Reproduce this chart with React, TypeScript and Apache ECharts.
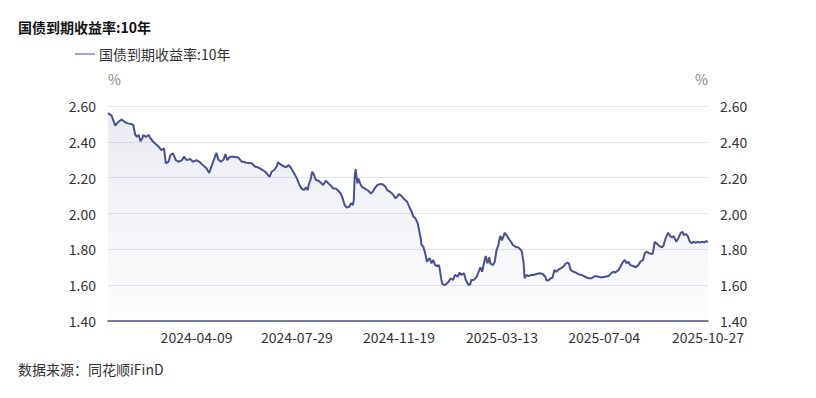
import React, { useEffect, useRef } from "react";
import * as echarts from "echarts";

const TITLE = "国债到期收益率:10年";
const SERIES_NAME = "国债到期收益率:10年";
const SOURCE = "数据来源：同花顺iFinD";

const xLabelDates = ["2024-04-09", "2024-07-29", "2024-11-19", "2025-03-13", "2025-07-04", "2025-10-27"];

const dates = [
  "2024-01-02", "2024-01-06", "2024-01-10", "2024-01-13", "2024-01-17", "2024-01-21", "2024-01-24", "2024-01-28", "2024-01-30",
  "2024-02-01", "2024-02-03", "2024-02-05", "2024-02-07", "2024-02-09", "2024-02-10", "2024-02-13", "2024-02-16", "2024-02-17",
  "2024-02-21", "2024-02-27", "2024-03-01", "2024-03-04", "2024-03-06", "2024-03-09", "2024-03-11", "2024-03-14", "2024-03-17",
  "2024-03-20", "2024-03-24", "2024-03-26", "2024-03-29", "2024-04-02", "2024-04-05", "2024-04-09", "2024-04-13", "2024-04-16",
  "2024-04-20", "2024-04-23", "2024-04-26", "2024-05-01", "2024-05-03", "2024-05-06", "2024-05-09", "2024-05-11", "2024-05-13",
  "2024-05-16", "2024-05-20", "2024-05-25", "2024-05-29", "2024-05-31", "2024-06-03", "2024-06-09", "2024-06-13", "2024-06-16",
  "2024-06-20", "2024-06-24", "2024-06-27", "2024-06-29", "2024-07-01", "2024-07-04", "2024-07-07", "2024-07-08", "2024-07-11",
  "2024-07-14", "2024-07-17", "2024-07-20", "2024-07-22", "2024-07-25", "2024-07-29", "2024-08-01", "2024-08-03", "2024-08-06",
  "2024-08-08", "2024-08-10", "2024-08-11", "2024-08-13", "2024-08-15", "2024-08-17", "2024-08-19", "2024-08-22", "2024-08-24",
  "2024-08-27", "2024-08-30", "2024-09-02", "2024-09-05", "2024-09-07", "2024-09-10", "2024-09-12", "2024-09-15", "2024-09-17",
  "2024-09-20", "2024-09-22", "2024-09-25", "2024-09-27", "2024-09-29", "2024-09-30", "2024-10-01", "2024-10-02", "2024-10-04",
  "2024-10-05", "2024-10-07", "2024-10-09", "2024-10-12", "2024-10-16", "2024-10-19", "2024-10-21", "2024-10-23", "2024-10-26",
  "2024-10-29", "2024-11-01", "2024-11-04", "2024-11-06", "2024-11-09", "2024-11-12", "2024-11-15", "2024-11-17", "2024-11-19",
  "2024-11-22", "2024-11-25", "2024-11-28", "2024-11-30", "2024-12-03", "2024-12-05", "2024-12-07", "2024-12-09", "2024-12-10",
  "2024-12-12", "2024-12-13", "2024-12-14", "2024-12-16", "2024-12-18", "2024-12-20", "2024-12-21", "2024-12-23", "2024-12-25",
  "2024-12-27", "2024-12-29", "2024-12-31", "2025-01-02", "2025-01-03", "2025-01-05", "2025-01-06", "2025-01-09", "2025-01-13",
  "2025-01-15", "2025-01-18", "2025-01-20", "2025-01-23", "2025-01-25", "2025-01-27", "2025-01-30", "2025-02-01", "2025-02-04",
  "2025-02-06", "2025-02-07", "2025-02-10", "2025-02-13", "2025-02-16", "2025-02-17", "2025-02-19", "2025-02-21", "2025-02-23",
  "2025-02-25", "2025-02-27", "2025-02-28", "2025-03-03", "2025-03-05", "2025-03-07", "2025-03-09", "2025-03-11", "2025-03-13",
  "2025-03-16", "2025-03-18", "2025-03-21", "2025-03-23", "2025-03-25", "2025-03-27", "2025-03-29", "2025-03-31", "2025-04-03",
  "2025-04-04", "2025-04-06", "2025-04-07", "2025-04-09", "2025-04-11", "2025-04-15", "2025-04-17", "2025-04-20", "2025-04-24",
  "2025-04-27", "2025-04-30", "2025-05-01", "2025-05-03", "2025-05-06", "2025-05-08", "2025-05-10", "2025-05-12", "2025-05-14",
  "2025-05-17", "2025-05-20", "2025-05-22", "2025-05-24", "2025-05-26", "2025-05-28", "2025-05-31", "2025-06-03", "2025-06-05",
  "2025-06-09", "2025-06-13", "2025-06-17", "2025-06-20", "2025-06-24", "2025-06-28", "2025-07-01", "2025-07-05", "2025-07-09",
  "2025-07-11", "2025-07-14", "2025-07-16", "2025-07-20", "2025-07-22", "2025-07-25", "2025-07-27", "2025-07-29", "2025-07-31",
  "2025-08-02", "2025-08-05", "2025-08-08", "2025-08-11", "2025-08-13", "2025-08-16", "2025-08-18", "2025-08-20", "2025-08-23",
  "2025-08-26", "2025-08-27", "2025-08-29", "2025-08-31", "2025-09-03", "2025-09-06", "2025-09-08", "2025-09-10", "2025-09-13",
  "2025-09-15", "2025-09-17", "2025-09-19", "2025-09-22", "2025-09-24", "2025-09-27", "2025-09-29", "2025-09-30", "2025-10-03",
  "2025-10-05", "2025-10-07", "2025-10-09", "2025-10-11", "2025-10-13", "2025-10-16", "2025-10-18", "2025-10-20", "2025-10-23",
  "2025-10-25", "2025-10-27",
];

const values = [
  2.56, 2.546, 2.49, 2.509, 2.525, 2.509, 2.503, 2.499, 2.494,
  2.442, 2.428, 2.438, 2.404, 2.42, 2.438, 2.428, 2.438, 2.428,
  2.4, 2.373, 2.354, 2.364, 2.28, 2.289, 2.326, 2.336, 2.298,
  2.289, 2.298, 2.317, 2.298, 2.304, 2.289, 2.298, 2.285, 2.27,
  2.252, 2.226, 2.27, 2.339, 2.302, 2.289, 2.302, 2.332, 2.298,
  2.317, 2.317, 2.313, 2.289, 2.289, 2.283, 2.28, 2.261, 2.258,
  2.246, 2.233, 2.215, 2.205, 2.233, 2.243, 2.265, 2.286, 2.274,
  2.265, 2.258, 2.27, 2.258, 2.233, 2.196, 2.159, 2.14, 2.131,
  2.146, 2.131, 2.159, 2.187, 2.233, 2.215, 2.187, 2.183, 2.174,
  2.159, 2.183, 2.168, 2.153, 2.14, 2.14, 2.131, 2.116, 2.094,
  2.047, 2.034, 2.038, 2.057, 2.047, 2.075, 2.205, 2.247, 2.168,
  2.196, 2.168, 2.149, 2.14, 2.127, 2.112, 2.122, 2.14, 2.159,
  2.164, 2.163, 2.149, 2.131, 2.122, 2.109, 2.085, 2.094, 2.109,
  2.097, 2.079, 2.066, 2.042, 2.01, 1.982, 1.976, 1.954, 1.94,
  1.889, 1.861, 1.824, 1.815, 1.778, 1.731, 1.74, 1.75, 1.722,
  1.74, 1.712, 1.707, 1.712, 1.694, 1.629, 1.606, 1.601, 1.619,
  1.638, 1.629, 1.657, 1.647, 1.67, 1.657, 1.666, 1.629, 1.601,
  1.606, 1.629, 1.629, 1.647, 1.685, 1.7, 1.675, 1.722, 1.763,
  1.722, 1.755, 1.722, 1.712, 1.731, 1.796, 1.824, 1.875, 1.85,
  1.892, 1.88, 1.855, 1.842, 1.824, 1.819, 1.811, 1.811, 1.796,
  1.787, 1.722, 1.638, 1.657, 1.651, 1.657, 1.657, 1.662, 1.666,
  1.662, 1.647, 1.629, 1.625, 1.638, 1.643, 1.685, 1.675, 1.685,
  1.694, 1.703, 1.718, 1.725, 1.722, 1.685, 1.675, 1.67, 1.662,
  1.657, 1.647, 1.638, 1.638, 1.651, 1.647, 1.643, 1.647, 1.651,
  1.662, 1.675, 1.67, 1.685, 1.703, 1.731, 1.74, 1.722, 1.731,
  1.712, 1.707, 1.7, 1.712, 1.731, 1.74, 1.778, 1.787, 1.778,
  1.774, 1.778, 1.842, 1.834, 1.819, 1.811, 1.824, 1.861, 1.893,
  1.874, 1.866, 1.874, 1.842, 1.861, 1.893, 1.898, 1.88, 1.885,
  1.87, 1.842, 1.834, 1.842, 1.837, 1.842, 1.837, 1.842, 1.839,
  1.846, 1.842,
];

const yMin = 1.4;
const yMax = 2.6;
const yStep = 0.2;

const FONT = "'Noto Sans CJK SC', 'Noto Sans', sans-serif";

function toTs(d: string): number {
  const [y, m, day] = d.split("-").map(Number);
  return new Date(y, m - 1, day).getTime();
}

export default function App() {
  const ref = useRef<HTMLDivElement>(null);

  useEffect(() => {
    document.body.style.margin = "0";
    if (!ref.current) return;
    const chart = echarts.init(ref.current, undefined, { renderer: "svg" });
    const data = dates.map((d, i) => [toTs(d), values[i]]);
    const pad = (n: number) => (n < 10 ? "0" + n : "" + n);
    const fmtDate = (v: number) => {
      const dt = new Date(v);
      return `${dt.getFullYear()}-${pad(dt.getMonth() + 1)}-${pad(dt.getDate())}`;
    };
    const yAxisCommon = {
      type: "value",
      min: yMin,
      max: yMax,
      interval: yStep,
      name: "%",
      nameLocation: "end",
      nameGap: 20,
      axisLine: { show: false },
      axisTick: { show: false },
      axisLabel: {
        color: "#333333",
        fontSize: 14,
        fontFamily: FONT,
        margin: 12,
        formatter: (v: number) => v.toFixed(2),
      },
    };
    chart.setOption({
      animation: false,
      backgroundColor: "#ffffff",
      textStyle: { fontFamily: FONT },
      title: [
        {
          text: TITLE,
          left: 13,
          top: 15,
          textStyle: { fontSize: 14, fontWeight: "bold", color: "#111111", fontFamily: FONT },
        },
        {
          text: SOURCE,
          left: 13,
          top: 357,
          textStyle: { fontSize: 14, fontWeight: "normal", color: "#333333", fontFamily: FONT },
        },
      ],
      legend: {
        left: 70,
        top: 42,
        itemWidth: 20,
        itemHeight: 10,
        itemGap: 10,
        icon: "path://M0,4 L20,4 L20,5 L0,5 Z",
        textStyle: { fontSize: 14, color: "#333333", fontFamily: FONT, padding: [0, 0, 0, -1] },
        data: [{ name: SERIES_NAME, itemStyle: { color: "#47528f" } }],
      },
      grid: { left: 108, right: 108, top: 106, bottom: 77, containLabel: false },
      xAxis: {
        type: "value",
        min: toTs(dates[0]),
        max: toTs(dates[dates.length - 1]),
        axisLine: { show: true, onZero: false, lineStyle: { color: "#4b5381", width: 1.5 } },
        axisTick: { show: false },
        splitLine: { show: false },
        axisLabel: {
          customValues: xLabelDates.map(toTs),
          formatter: (v: number) => fmtDate(v),
          color: "#333333",
          fontSize: 14,
          fontFamily: FONT,
          margin: 9,
        },
      },
      yAxis: [
        {
          ...yAxisCommon,
          position: "left",
          nameTextStyle: { color: "#888888", fontSize: 14, align: "left", fontFamily: FONT },
          splitLine: { show: true, lineStyle: { color: "#e6e6f0", width: 1 } },
        },
        {
          ...yAxisCommon,
          position: "right",
          nameTextStyle: { color: "#888888", fontSize: 14, align: "right", fontFamily: FONT },
          splitLine: { show: false },
        },
      ],
      series: [
        {
          name: SERIES_NAME,
          type: "line",
          data,
          showSymbol: false,
          symbol: "none",
          lineStyle: { color: "#47528f", width: 2 },
          itemStyle: { color: "#47528f" },
          areaStyle: {
            origin: "start",
            color: new echarts.graphic.LinearGradient(0, 0, 0, 1, [
              { offset: 0, color: "rgba(71,82,143,0.16)" },
              { offset: 1, color: "rgba(71,82,143,0.02)" },
            ]),
          },
        },
      ],
    });
    return () => chart.dispose();
  }, []);

  return <div ref={ref} style={{ width: 816, height: 398 }} />;
}
